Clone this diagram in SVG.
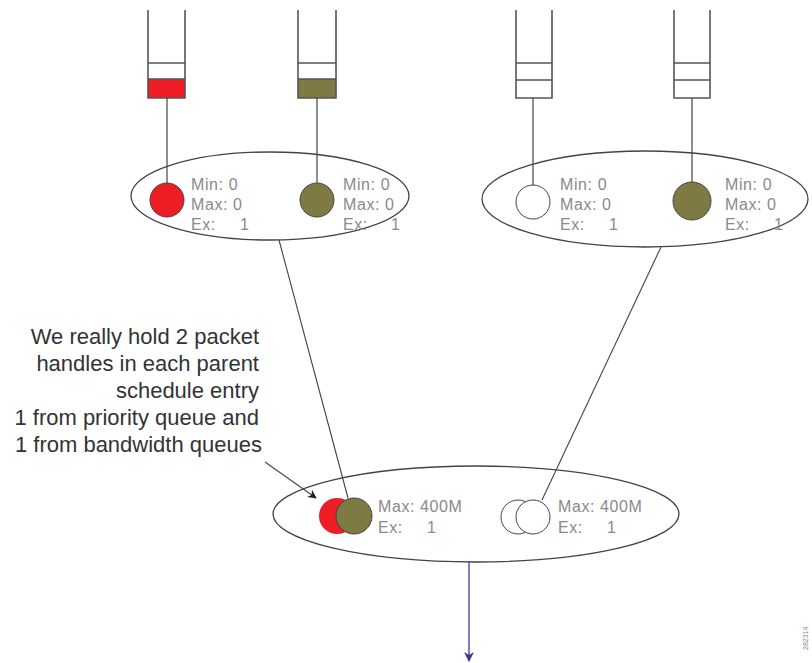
<svg xmlns="http://www.w3.org/2000/svg" width="812" height="663" viewBox="0 0 812 663">
<style>
.q{fill:none;stroke:#555;stroke-width:1.6}
.el{fill:#fff;stroke:#444;stroke-width:1.3}
.ln{stroke:#444;stroke-width:1.1;fill:none}
.st{stroke:#444;stroke-width:1.2}
.ci{stroke:#444;stroke-width:1}
.red{fill:#ee1c25}
.olv{fill:#7f7a43}
.wht{fill:#fff}
.lbl{font-family:"Liberation Sans",Arial,sans-serif;font-size:16px;fill:#8a8a8a;letter-spacing:0.6px}
.note{font-family:"Liberation Sans",Arial,sans-serif;font-size:22px;fill:#333;text-anchor:end}
</style>
<defs>
<marker id="ah" viewBox="0 0 10 10" refX="9" refY="5" markerWidth="9" markerHeight="9" markerUnits="userSpaceOnUse" orient="auto">
<path d="M0,0 L10,5 L0,10 L3,5 z" fill="#222"/>
</marker>
<marker id="bh" viewBox="0 0 10 10" refX="9" refY="5" markerWidth="10" markerHeight="10" markerUnits="userSpaceOnUse" orient="auto">
<path d="M0,0 L10,5 L0,10 L3,5 z" fill="#3a3a9a"/>
</marker>
</defs>

<g id="queue1">
<rect x="148" y="79" width="37" height="19" class="red"/>
<path class="q" d="M148,10 V98 H185 V10 M148,63 H185 M148,79 H185"/>
</g>
<g id="queue2">
<rect x="298" y="79" width="38" height="19" class="olv"/>
<path class="q" d="M298,10 V98 H336 V10 M298,63 H336 M298,79 H336"/>
</g>
<g id="queue3">
<path class="q" d="M516,10 V98 H552 V10 M516,63 H552 M516,80 H552"/>
</g>
<g id="queue4">
<path class="q" d="M674,10 V98 H710 V10 M674,63 H710 M674,80 H710"/>
</g>

<g id="parent1">
<ellipse class="el" cx="270" cy="196" rx="139" ry="44"/>
<circle class="ci red" cx="167" cy="200" r="17"/>
<circle class="ci olv" cx="317" cy="200" r="17"/>
<text class="lbl" x="191" y="190">Min: 0</text>
<text class="lbl" x="191" y="210">Max: 0</text>
<text class="lbl" x="191" y="230">Ex:<tspan x="240">1</tspan></text>
<text class="lbl" x="343" y="190">Min: 0</text>
<text class="lbl" x="343" y="210">Max: 0</text>
<text class="lbl" x="343" y="230">Ex:<tspan x="391">1</tspan></text>
</g>

<g id="parent2">
<ellipse class="el" cx="645" cy="199" rx="163" ry="48"/>
<circle class="ci wht" cx="533" cy="202" r="17"/>
<circle class="ci olv" cx="692" cy="201" r="19"/>
<text class="lbl" x="560" y="190">Min: 0</text>
<text class="lbl" x="560" y="210">Max: 0</text>
<text class="lbl" x="560" y="230">Ex:<tspan x="609">1</tspan></text>
<text class="lbl" x="725" y="190">Min: 0</text>
<text class="lbl" x="725" y="210">Max: 0</text>
<text class="lbl" x="725" y="230">Ex:<tspan x="774">1</tspan></text>
</g>

<g id="root">
<ellipse class="el" cx="476" cy="514" rx="203" ry="48"/>
<circle class="red" cx="337" cy="516" r="18"/>
<circle class="ci olv" cx="354" cy="516" r="18"/>
<circle class="ci wht" cx="518" cy="517" r="17"/>
<circle class="ci wht" cx="533" cy="517" r="17"/>
<text class="lbl" x="378" y="512">Max: 400M</text>
<text class="lbl" x="378" y="533">Ex:<tspan x="427">1</tspan></text>
<text class="lbl" x="558" y="512">Max: 400M</text>
<text class="lbl" x="558" y="533">Ex:<tspan x="607">1</tspan></text>
</g>

<g id="note">
<text class="note" x="259" y="344">We really hold 2 packet</text>
<text class="note" x="259" y="371">handles in each parent</text>
<text class="note" x="259" y="398">schedule entry</text>
<text class="note" x="259" y="425">1 from priority queue and</text>
<text class="note" x="262" y="452">1 from bandwidth queues</text>
</g>

<g id="connectors">
<line class="st" x1="167" y1="98" x2="167" y2="183"/>
<line class="st" x1="317" y1="98" x2="317" y2="183"/>
<line class="st" x1="533" y1="98" x2="533" y2="185"/>
<line class="st" x1="692" y1="98" x2="692" y2="182"/>
<line class="ln" x1="279" y1="240" x2="348" y2="498"/>
<line class="ln" x1="661" y1="247" x2="542" y2="500"/>
<line class="ln" x1="265" y1="462" x2="316" y2="498" marker-end="url(#ah)"/>
<line x1="469" y1="562" x2="469" y2="661" stroke="#3a3a9a" stroke-width="1.3" marker-end="url(#bh)"/>
</g>

<text x="808" y="650" transform="rotate(-90 808 650)" font-family="Liberation Sans, Arial, sans-serif" font-size="7" fill="#888">282314</text>
</svg>
